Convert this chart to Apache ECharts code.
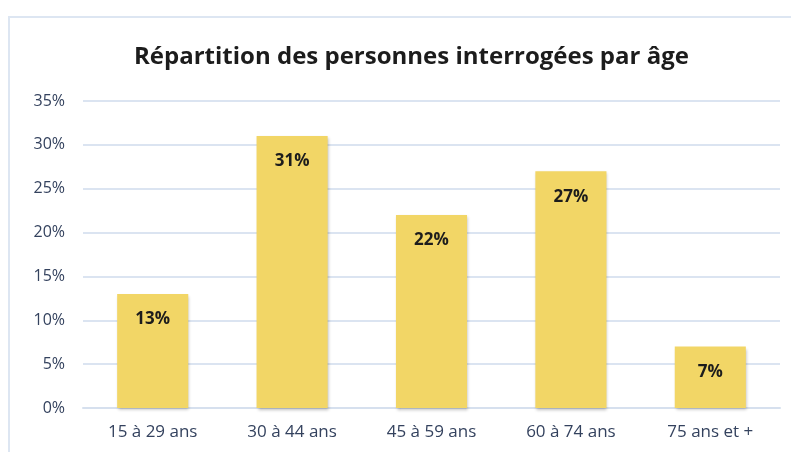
<!DOCTYPE html>
<html>
<head>
<meta charset="utf-8">
<script src="https://cdn.jsdelivr.net/npm/echarts@6/dist/echarts.min.js"></script>
<style>
    html, body { margin: 0; padding: 0; background: #fff; }
    #frame {
        position: absolute; left: 8px; top: 16px; width: 800px; height: 450px;
        border-left: 2px solid #dde6f2; border-top: 2px solid #dde6f2;
    }
    #chart { position: absolute; left: 0; top: 0; width: 791px; height: 452px; }
</style>
</head>
<body>
<div id="frame"></div>
<div id="chart"></div>
<script>
const categories = ['15 à 29 ans', '30 à 44 ans', '45 à 59 ans', '60 à 74 ans', '75 ans et +'];
const shares = [13, 31, 22, 27, 7];
const yTicks = [0, 5, 10, 15, 20, 25, 30, 35];

const chart = echarts.init(document.getElementById('chart'));
chart.setOption({
    animation: false,
    title: {
        text: 'Répartition des personnes interrogées par âge',
        left: 129,
        top: 40,
        textStyle: { fontFamily: 'Open Sans', fontSize: 24, fontWeight: 'bold', color: '#1c1c1c' },
    },
    grid: { left: 83, right: 11, top: 101, bottom: 44 },
    xAxis: {
        type: 'category',
        data: categories,
        axisLine: { lineStyle: { color: '#d6e0ee', width: 2 } },
        axisTick: { show: false },
        axisLabel: { fontFamily: 'Open Sans', fontSize: 17, color: '#34425e', margin: 16 },
    },
    yAxis: {
        type: 'value',
        min: yTicks[0],
        max: yTicks[yTicks.length - 1],
        interval: 5,
        axisLabel: {
            formatter: '{value}%', fontFamily: 'Open Sans', fontSize: 16, color: '#34425e', margin: 18,
        },
        splitLine: { lineStyle: { color: '#dbe4f1', width: 2 } },
        axisLine: { show: false },
        axisTick: { show: false },
    },
    series: [{
        type: 'bar',
        data: shares,
        barWidth: '51%',
        itemStyle: {
            color: '#f2d666',
            shadowColor: 'rgba(0,0,0,0.25)',
            shadowBlur: 3,
            shadowOffsetX: 1,
            shadowOffsetY: 2,
        },
        label: {
            show: true,
            position: 'insideTop',
            distance: 17,
            formatter: '{c}%',
            fontFamily: 'Open Sans',
            fontSize: 17,
            fontWeight: 'bold',
            color: '#1c1c1c',
        },
    }],
});
</script>
</body>
</html>
